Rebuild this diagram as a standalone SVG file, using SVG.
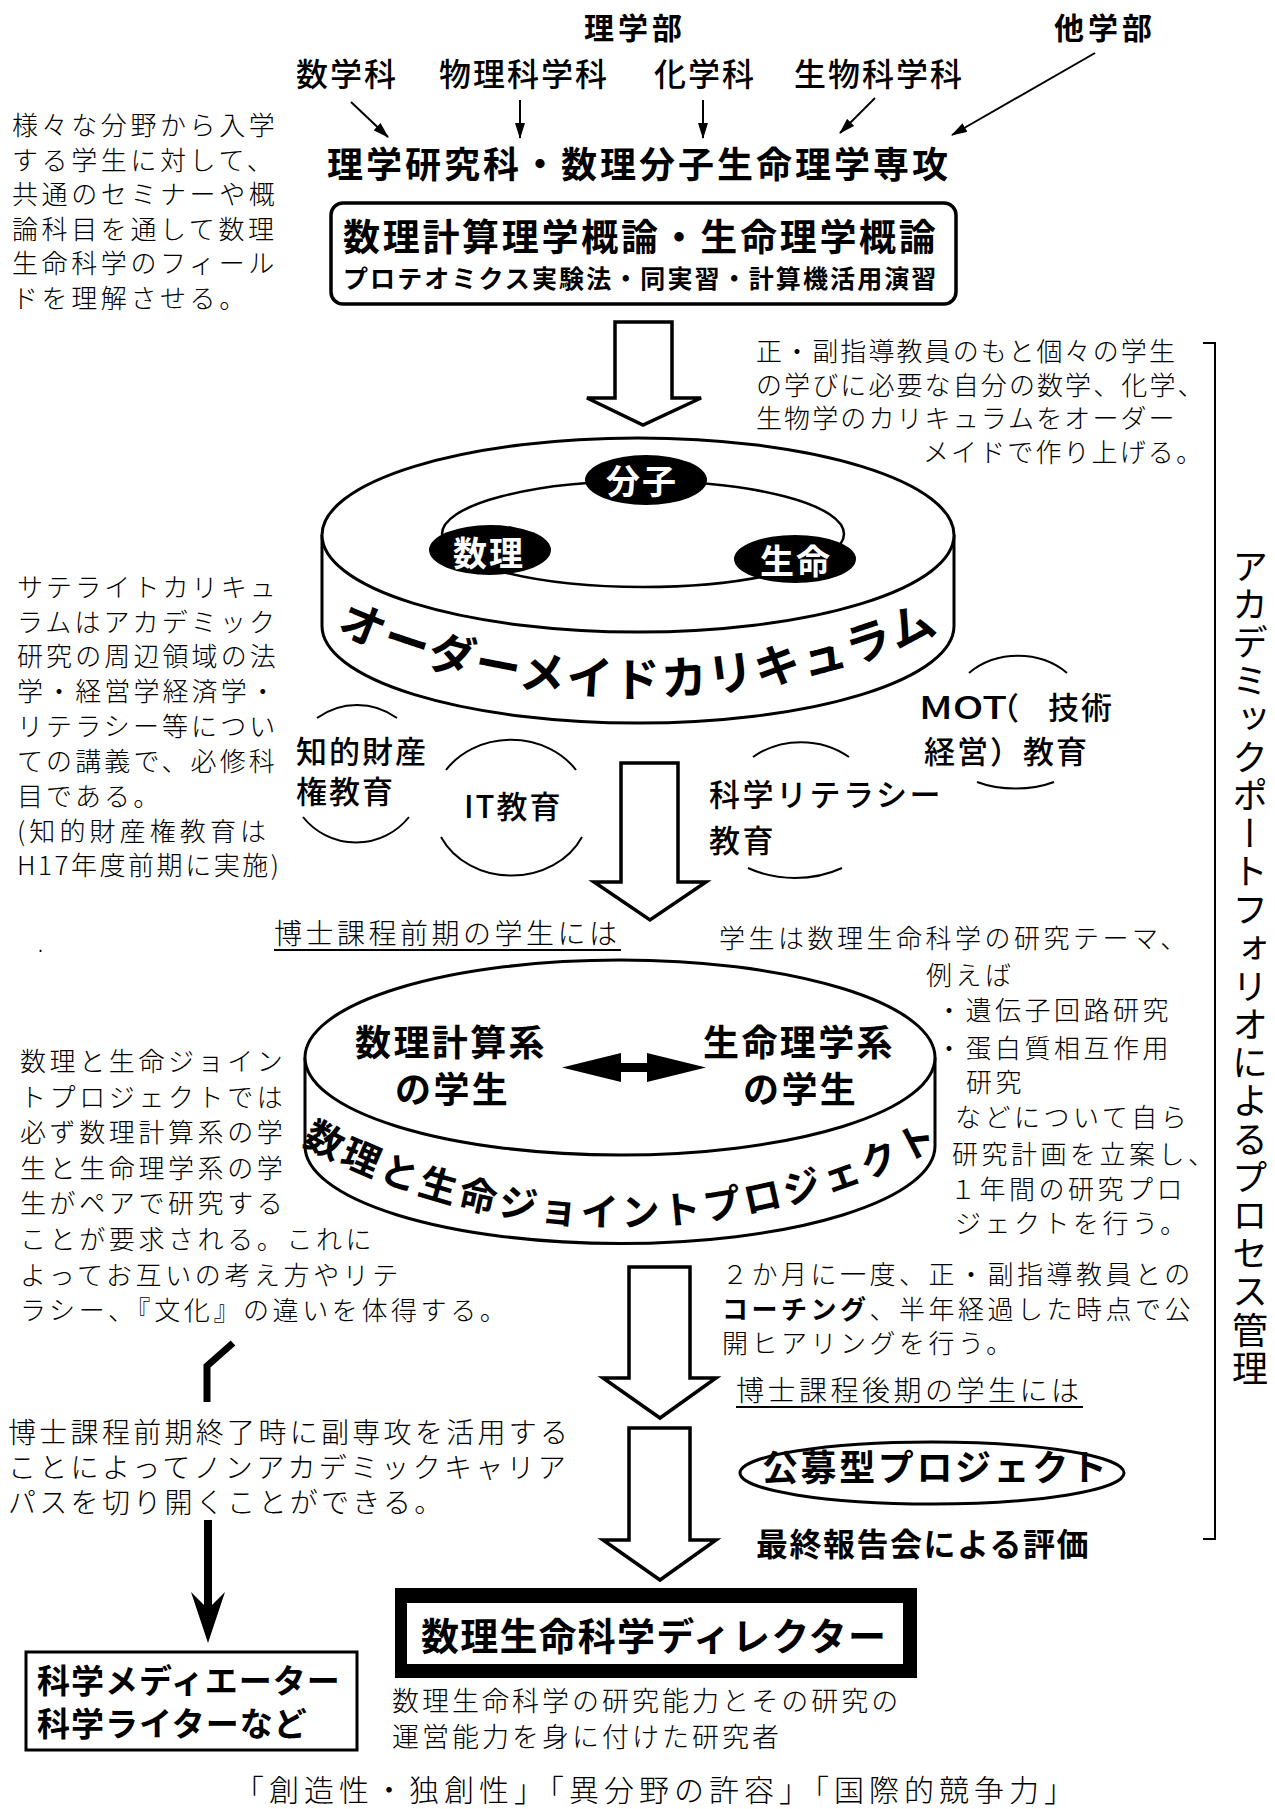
<svg xmlns="http://www.w3.org/2000/svg" width="1275" height="1809" viewBox="0 0 1275 1809">
<defs>
<style>
text { font-family: "Noto Sans CJK JP", "Noto Sans", sans-serif; fill:#000; }
.b { font-weight:700; }
.m { font-weight:500; }
.r { font-weight:400; }
.l { font-weight:300; }
.thin { fill:none; stroke:#000; stroke-width:2; }
.hollow { fill:#fff; stroke:#000; stroke-width:3.5; stroke-linejoin:miter; }
.cyl { fill:#fff; stroke:#000; stroke-width:3; }
.fillonly { fill:#fff; stroke:none; }
.wt { fill:#fff; font-weight:700; }
</style>
<marker id="ah" markerUnits="userSpaceOnUse" markerWidth="16" markerHeight="10" refX="15" refY="5" orient="auto"><path d="M0,0 L16,5 L0,10 Z" fill="#000"/></marker>
<path id="arc1" d="M312.7,620.9 A742,742 0 0 0 963.3,620.9"/>
<path id="arc2" d="M280.5,1131.3 A663,663 0 0 0 963.5,1131.3"/>
</defs>
<rect width="1275" height="1809" fill="#fff"/>

<g id="header">
<text class="b" x="584" y="39" font-size="30" letter-spacing="4">理学部</text>
<text class="b" x="1054" y="39" font-size="30" letter-spacing="4">他学部</text>
<text class="m" x="296" y="86" font-size="32" letter-spacing="2">数学科</text>
<text class="m" x="439" y="86" font-size="32" letter-spacing="2">物理科学科</text>
<text class="m" x="654" y="86" font-size="32" letter-spacing="2">化学科</text>
<text class="m" x="794" y="86" font-size="32" letter-spacing="2">生物科学科</text>
</g>

<g id="connectors">
<line class="thin" x1="351" y1="102" x2="388" y2="137" marker-end="url(#ah)"/>
<line class="thin" x1="520" y1="100" x2="520" y2="138" marker-end="url(#ah)"/>
<line class="thin" x1="703" y1="100" x2="703" y2="138" marker-end="url(#ah)"/>
<line class="thin" x1="875" y1="98" x2="840" y2="133" marker-end="url(#ah)"/>
<line class="thin" x1="1095" y1="53" x2="952" y2="135" marker-end="url(#ah)"/>
<path class="hollow" d="M615,322 H672 V398 H701 L643,425 L587,398 H615 Z"/>
<path class="hollow" d="M621,763 H678 V882 H706 L650,920 L594,882 H621 Z"/>
<path class="hollow" d="M629,1267 H690 V1378 H716 L660,1418 L603,1378 H629 Z"/>
<path class="hollow" d="M629,1428 H690 V1540 H716 L660,1580 L603,1540 H629 Z"/>
<polyline points="233,1343 207,1366 207,1402" fill="none" stroke="#000" stroke-width="7"/>
<line x1="208" y1="1520" x2="208" y2="1612" stroke="#000" stroke-width="8"/>
<path d="M208,1643 L191,1592 L208,1609 L225,1592 Z" fill="#000"/>
<path d="M1203,343 H1215 V1539 H1203" fill="none" stroke="#000" stroke-width="2"/>
</g>

<g id="major">
<text class="b" x="327" y="178" font-size="36" letter-spacing="3">理学研究科・数理分子生命理学専攻</text>
</g>

<g id="intro-box">
<rect x="331" y="203" width="625" height="101" rx="12" fill="#fff" stroke="#000" stroke-width="3.5"/>
<text class="b" x="343" y="251" font-size="37" letter-spacing="2.7">数理計算理学概論・生命理学概論</text>
<text class="b" x="343" y="288" font-size="25" letter-spacing="2.1">プロテオミクス実験法・同実習・計算機活用演習</text>
</g>

<g id="note-intro">
<text class="l" font-size="26" letter-spacing="3.6">
<tspan x="12" y="135">様々な分野から入学</tspan>
<tspan x="12" y="170">する学生に対して、</tspan>
<tspan x="12" y="204">共通のセミナーや概</tspan>
<tspan x="12" y="239">論科目を通して数理</tspan>
<tspan x="12" y="273">生命科学のフィール</tspan>
<tspan x="12" y="308">ドを理解させる。</tspan>
</text>
</g>

<g id="note-ordermade">
<text class="l" font-size="26" letter-spacing="2.1">
<tspan x="756" y="361">正・副指導教員のもと個々の学生</tspan>
<tspan x="756" y="395">の学びに必要な自分の数学、化学、</tspan>
<tspan x="756" y="428">生物学のカリキュラムをオーダー</tspan>
<tspan x="923" y="462">メイドで作り上げる。</tspan>
</text>
</g>

<g id="cylinder-curriculum">
<path class="fillonly" d="M322,535 V626 A316,97 0 0 0 954,626 V535"/>
<path d="M322,535 V626 A316,97 0 0 0 954,626 V535" fill="none" stroke="#000" stroke-width="3"/>
<ellipse class="cyl" cx="638" cy="535" rx="316" ry="97"/>
<ellipse cx="643" cy="534" rx="201" ry="53" fill="none" stroke="#000" stroke-width="2.5"/>
<ellipse cx="646" cy="480" rx="61" ry="25" fill="#000"/>
<ellipse cx="490" cy="550" rx="61" ry="25" fill="#000"/>
<ellipse cx="795" cy="559" rx="61" ry="24" fill="#000"/>
<text class="wt" x="642" y="494" font-size="34" text-anchor="middle" letter-spacing="2">分子</text>
<text class="wt" x="489" y="566" font-size="34" text-anchor="middle" letter-spacing="2">数理</text>
<text class="wt" x="796" y="574" font-size="34" text-anchor="middle" letter-spacing="2">生命</text>
<text class="b" font-size="46" letter-spacing="2.2"><textPath href="#arc1" startOffset="50%" text-anchor="middle">オーダーメイドカリキュラム</textPath></text>
</g>

<g id="note-satellite">
<text class="l" font-size="26" letter-spacing="3.1">
<tspan x="17" y="597">サテライトカリキュ</tspan>
<tspan x="17" y="632">ラムはアカデミック</tspan>
<tspan x="17" y="666">研究の周辺領域の法</tspan>
<tspan x="17" y="701">学・経営学経済学・</tspan>
<tspan x="17" y="736">リテラシー等につい</tspan>
<tspan x="17" y="771">ての講義で、必修科</tspan>
<tspan x="17" y="806">目である。</tspan>
</text>
<text class="l" x="17" y="841" font-size="26" textLength="249">(知的財産権教育は</text>
<text class="l" x="17" y="875" font-size="26" textLength="262">H17年度前期に実施)</text>
</g>

<g id="sat-ip">
<path class="thin" d="M317,718 A68,68.5 0 0 1 397,718"/>
<path class="thin" d="M303,817 A68,68.5 0 0 0 409,817"/>
<text class="m" x="296" y="763" font-size="31" letter-spacing="2">知的財産</text>
<text class="m" x="296" y="803" font-size="31" letter-spacing="2">権教育</text>
</g>
<g id="sat-it">
<path class="thin" d="M446,770 A78,67.5 0 0 1 576,770"/>
<path class="thin" d="M441,837 A78,67.5 0 0 0 582,837"/>
<text class="m" x="464" y="818" font-size="31" letter-spacing="2">IT教育</text>
</g>
<g id="sat-lit">
<path class="thin" d="M753,757 A77,68 0 0 1 849,757"/>
<path class="thin" d="M748,868 A90,68 0 0 0 842,868"/>
<text class="m" x="709" y="806" font-size="31" letter-spacing="2.5">科学リテラシー</text>
<text class="m" x="709" y="852" font-size="31" letter-spacing="2.5">教育</text>
</g>
<g id="sat-mot">
<path class="thin" d="M969,673 A70,60 0 0 1 1067,673"/>
<path class="thin" d="M977,782 A70,40 0 0 0 1054,782"/>
<text class="m" x="919" y="719" font-size="31" textLength="88" lengthAdjust="spacingAndGlyphs">MOT</text>
<text class="m" x="988" y="719" font-size="31">（</text>
<text class="m" x="1048" y="719" font-size="31" letter-spacing="2">技術</text>
<text class="m" x="924" y="763" font-size="31" letter-spacing="2">経営）教育</text>
</g>

<g id="label-master">
<text class="l" x="274" y="944" font-size="28" letter-spacing="3.5">博士課程前期の学生には</text>
<line x1="274" y1="950" x2="621" y2="950" stroke="#000" stroke-width="2"/>
<text class="l" x="38" y="952" font-size="20">.</text>
</g>

<g id="note-theme">
<text class="l" font-size="26" letter-spacing="3.5">
<tspan x="719" y="948">学生は数理生命科学の研究テーマ、</tspan>
<tspan x="926" y="985">例えば</tspan>
<tspan x="936" y="1020">・遺伝子回路研究</tspan>
<tspan x="936" y="1058">・蛋白質相互作用</tspan>
<tspan x="966" y="1092">研究</tspan>
<tspan x="955" y="1127">などについて自ら</tspan>
<tspan x="952" y="1164">研究計画を立案し、</tspan>
<tspan x="950" y="1199">１年間の研究プロ</tspan>
<tspan x="955" y="1233">ジェクトを行う。</tspan>
</text>
</g>

<g id="cylinder-joint">
<path class="fillonly" d="M305,1057.5 V1146 A315,97.5 0 0 0 935,1146 V1057.5"/>
<path d="M305,1057.5 V1146 A315,97.5 0 0 0 935,1146 V1057.5" fill="none" stroke="#000" stroke-width="3"/>
<ellipse class="cyl" cx="620" cy="1057.5" rx="315" ry="97.5"/>
<text class="b" x="355" y="1056" font-size="36" letter-spacing="2.4">数理計算系</text>
<text class="b" x="395" y="1103" font-size="36" letter-spacing="2.4">の学生</text>
<text class="b" x="703" y="1056" font-size="36" letter-spacing="2.4">生命理学系</text>
<text class="b" x="743" y="1103" font-size="36" letter-spacing="2.4">の学生</text>
<path d="M562,1067.5 L621,1053 V1063 H647 V1053 L706,1067.5 L647,1082 V1072 H621 V1082 Z" fill="#000"/>
<text class="b" font-size="38" letter-spacing="3.8"><textPath href="#arc2" startOffset="50%" text-anchor="middle">数理と生命ジョイントプロジェクト</textPath></text>
</g>

<g id="note-joint">
<text class="l" font-size="26" letter-spacing="3.6">
<tspan x="20" y="1071">数理と生命ジョイン</tspan>
<tspan x="20" y="1107">トプロジェクトでは</tspan>
<tspan x="20" y="1142">必ず数理計算系の学</tspan>
<tspan x="20" y="1178">生と生命理学系の学</tspan>
<tspan x="20" y="1213">生がペアで研究する</tspan>
<tspan x="20" y="1249">ことが要求される。これに</tspan>
<tspan x="20" y="1285">よってお互いの考え方やリテ</tspan>
<tspan x="20" y="1320">ラシー、『文化』の違いを体得する。</tspan>
</text>
</g>

<g id="note-coaching">
<text class="l" font-size="26" letter-spacing="3.5">
<tspan x="722" y="1284">２か月に一度、正・副指導教員との</tspan>
<tspan x="722" y="1319"><tspan class="b">コーチング</tspan>、半年経過した時点で公</tspan>
<tspan x="722" y="1353">開ヒアリングを行う。</tspan>
</text>
</g>

<g id="label-doctor">
<text class="l" x="736" y="1401" font-size="28" letter-spacing="3.5">博士課程後期の学生には</text>
<line x1="736" y1="1407" x2="1083" y2="1407" stroke="#000" stroke-width="2"/>
</g>

<g id="public-project">
<ellipse cx="932" cy="1473" rx="192" ry="31" fill="#fff" stroke="#000" stroke-width="3"/>
<text class="b" x="762" y="1481" font-size="36" letter-spacing="2.6">公募型プロジェクト</text>
</g>

<g id="final-eval">
<text class="b" x="756" y="1556" font-size="32" letter-spacing="1.5">最終報告会による評価</text>
</g>

<g id="note-career">
<text class="l" font-size="28" letter-spacing="3.3">
<tspan x="8" y="1443">博士課程前期終了時に副専攻を活用する</tspan>
<tspan x="8" y="1478">ことによってノンアカデミックキャリア</tspan>
<tspan x="8" y="1513">パスを切り開くことができる。</tspan>
</text>
</g>

<g id="portfolio">
<text class="r" x="1250" y="548" font-size="36" letter-spacing="2.2" style="writing-mode: vertical-rl">アカデミックポートフォリオによるプロセス管理</text>
</g>

<g id="mediator">
<rect x="26" y="1652" width="331" height="98" fill="#fff" stroke="#000" stroke-width="3"/>
<text class="b" x="37" y="1693" font-size="33" letter-spacing="1">科学メディエーター</text>
<text class="b" x="37" y="1736" font-size="33" letter-spacing="1">科学ライターなど</text>
</g>

<g id="director">
<rect x="395" y="1588" width="522" height="90" fill="#000"/>
<rect x="407" y="1603" width="496" height="61" fill="#fff"/>
<text class="b" x="421" y="1650" font-size="38" letter-spacing="1.2">数理生命科学ディレクター</text>
<text class="l" font-size="27" letter-spacing="3">
<tspan x="392" y="1711">数理生命科学の研究能力とその研究の</tspan>
<tspan x="392" y="1747">運営能力を身に付けた研究者</tspan>
</text>
</g>

<g id="values">
<text class="l" x="234" y="1801" font-size="30" letter-spacing="5">「創造性・独創性」「異分野の許容」「国際的競争力」</text>
</g>
</svg>
